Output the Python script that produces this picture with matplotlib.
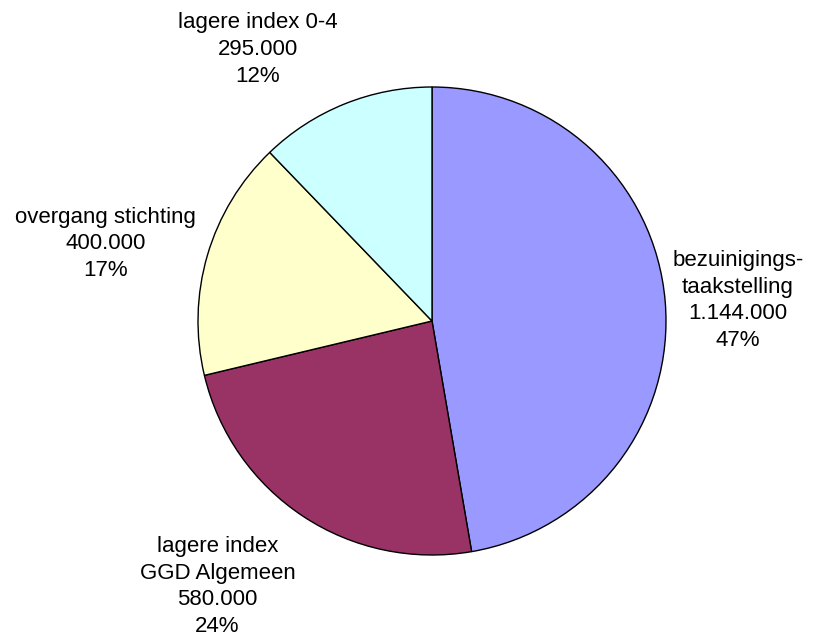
import numpy as np
import matplotlib
matplotlib.use("Agg")
import matplotlib.pyplot as plt

# data
names = ["bezuinigings-\ntaakstelling", "lagere index\nGGD Algemeen",
         "overgang stichting", "lagere index 0-4"]
values = [1144000, 580000, 400000, 295000]
colors = ["#9999FF", "#993366", "#FFFFCC", "#CCFFFF"]

plt.rcParams['font.family'] = ['Liberation Sans', 'DejaVu Sans']

W, H = 813, 637
fig = plt.figure(figsize=(W / 100, H / 100), dpi=100)
cx, cy, r = 432, 321, 234
ax = fig.add_axes([(cx - r) / W, (H - cy - r) / H, 2 * r / W, 2 * r / H])

wedges, _ = ax.pie(values, colors=colors, startangle=90, counterclock=False,
                   radius=1, wedgeprops=dict(edgecolor="black", linewidth=1.0))
ax.set_xlim(-1, 1)
ax.set_ylim(-1, 1)
ax.set_aspect("equal")
ax.axis("off")

total = float(sum(values))
label_dist = [1.03, 1.1, 1.05, 1.08]
label_shift = [(0, 0), (5, 0), (0, 8), (0, 0)]  # pixels
for w, name, v, d, sh in zip(wedges, names, values, label_dist, label_shift):
    theta = np.deg2rad((w.theta1 + w.theta2) / 2)
    x, y = d * np.cos(theta), d * np.sin(theta)
    ha = "left" if x > 0 else "right"
    s = np.sin(theta)
    va = "center" if abs(s) < 0.5 else ("bottom" if s > 0 else "top")
    txt = "%s\n%s\n%d%%" % (name, format(v, ",").replace(",", "."), round(100 * v / total))
    ax.annotate(txt, (x, y), xytext=sh, textcoords="offset pixels",
                ha=ha, va=va, multialignment="center",
                fontsize=16, linespacing=1.36, annotation_clip=False)

fig.savefig("out.png", dpi=100)
